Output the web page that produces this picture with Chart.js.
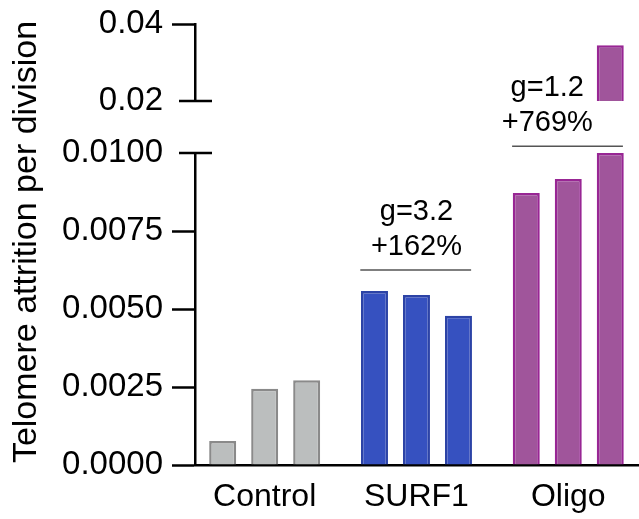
<!DOCTYPE html>
<html>
<head>
<meta charset="utf-8">
<script src="https://cdn.jsdelivr.net/npm/chart.js@4"></script>
<style>
  html, body { margin: 0; padding: 0; background: #fff; overflow: hidden; }
  #wrap { position: relative; width: 639px; height: 519px; overflow: hidden; }
  #wrap canvas { position: absolute; left: 0; }
  #low { top: 0; }
  #high { top: -30px; }
</style>
</head>
<body>
<div id="wrap">
  <canvas id="low" width="639" height="519"></canvas>
  <canvas id="high" width="639" height="170"></canvas>
</div>
<script>
// groups and replicate values (attrition per division)
const GROUPS = ['Control', 'SURF1', 'Oligo'];
const CONTROL = [0.00077, 0.00244, 0.00272];
const SURF1 = [0.00558, 0.00545, 0.00478];
const OLIGO = [0.00872, 0.00917, 0.0345];

// broken y axis: lower and upper segments
const LOW_MIN = 0, LOW_MAX = 0.01, LOW_STEP = 0.0025;
const HIGH_MIN = 0.02, HIGH_MAX = 0.04, HIGH_STEP = 0.02;

// effect size labels above each group
const G_LABELS = ['', 'g=3.2', 'g=1.2'];
const PCT_LABELS = ['', '+162%', '+769%'];

const FILL = ['#bbbebe', '#3651c0', '#a0559b'];
const EDGE = ['#8a8a8a', '#2c43a6', '#982694'];
const FONT = "'Liberation Sans', Arial, Helvetica, sans-serif";

Chart.defaults.font.family = FONT;
Chart.defaults.color = '#000';
Chart.defaults.animation = false;

const byReplicate = r => [CONTROL[r], SURF1[r], OLIGO[r]];

// x is linear so the group spacing and the y axis position can be set independently
const X_SCALE = {
    type: 'linear', min: -0.459, max: 2.466, offset: false,
    grid: { display: true, drawOnChartArea: false, drawTicks: false },
    border: { display: true, color: '#000', width: 2.5 },
    ticks: {
        stepSize: 1, includeBounds: false, padding: 13,
        font: { size: 32 },
        callback: v => GROUPS[v] ?? ''
    },
    afterFit: s => { s.height = 54; }
};

const BAR_STYLE = {
    backgroundColor: FILL, borderColor: EDGE, borderWidth: 2.5,
    categoryPercentage: 0.83, barPercentage: 0.643
};

function yScale(min, max, step, digits, capValue) {
    return {
        min, max,
        ticks: {
            stepSize: step, padding: 9, font: { size: 33 }, autoSkip: false,
            callback: v => v.toFixed(digits)
        },
        grid: {
            drawOnChartArea: false, tickLength: 23, tickWidth: 2.5,
            tickColor: c => (c.tick && Math.abs(c.tick.value - capValue) < 1e-9) ? 'rgba(0,0,0,0)' : '#000'
        },
        border: { display: true, color: '#000', width: 2.5 },
        afterFit: s => { s.width = 195; }
    };
}

// break cap drawn across the axis where a segment is cut
function breakCap(value) {
    return {
        id: 'breakCap',
        afterDraw(chart) {
            const y = chart.scales.y.getPixelForValue(value);
            const x = chart.chartArea.left;
            const ctx = chart.ctx;
            ctx.save();
            ctx.strokeStyle = '#000';
            ctx.lineWidth = 2.5;
            ctx.beginPath();
            ctx.moveTo(x - 16, y);
            ctx.lineTo(x + 17, y);
            ctx.stroke();
            ctx.restore();
        }
    };
}

// y title and the bracket annotations
const extras = {
    id: 'extras',
    afterDraw(chart) {
        const ctx = chart.ctx;
        const xs = chart.scales.x, ys = chart.scales.y;
        ctx.save();
        ctx.fillStyle = '#000';
        ctx.font = '34px ' + FONT;
        ctx.textAlign = 'center';
        ctx.textBaseline = 'middle';
        ctx.translate(27, 242);
        ctx.rotate(-Math.PI / 2);
        ctx.fillText('Telomere attrition per division', 0, 0);
        ctx.restore();

        const bracketAt = [null, 0.00625, 0.01022];
        const textShift = [0, 0, -21];
        ctx.save();
        ctx.font = '29px ' + FONT;
        ctx.textAlign = 'center';
        ctx.textBaseline = 'middle';
        GROUPS.forEach((g, i) => {
            if (!G_LABELS[i]) return;
            const y = ys.getPixelForValue(bracketAt[i]);
            const x0 = xs.getPixelForValue(i - 0.37);
            const x1 = xs.getPixelForValue(i + 0.36);
            ctx.strokeStyle = '#555';
            ctx.lineWidth = 1.5;
            ctx.beginPath();
            ctx.moveTo(x0, y);
            ctx.lineTo(x1, y);
            ctx.stroke();
            const cx = xs.getPixelForValue(i) + textShift[i];
            ctx.fillStyle = '#000';
            ctx.fillText(PCT_LABELS[i], cx, y - 23);
            ctx.fillText(G_LABELS[i], cx, y - 58);
        });
        ctx.restore();
    }
};

new Chart(document.getElementById('low'), {
    type: 'bar',
    data: {
        datasets: [0, 1, 2].map(r => ({
            ...BAR_STYLE,
            data: byReplicate(r).map((v, i) => ({ x: i, y: Math.min(v, LOW_MAX) }))
        }))
    },
    options: {
        responsive: false,
        layout: { padding: { top: 153, right: 0, left: 0, bottom: 0 } },
        plugins: { legend: { display: false }, tooltip: { enabled: false } },
        scales: { x: X_SCALE, y: yScale(LOW_MIN, LOW_MAX, LOW_STEP, 4, LOW_MAX) }
    },
    plugins: [breakCap(LOW_MAX), extras]
});

// upper segment sits 30px above the page top so its padding stays clear of label overflow
new Chart(document.getElementById('high'), {
    type: 'bar',
    data: {
        datasets: [0, 1, 2].map(r => ({
            ...BAR_STYLE,
            data: byReplicate(r).map((v, i) => ({ x: i, y: v > HIGH_MIN ? [HIGH_MIN, v] : null }))
        }))
    },
    options: {
        responsive: false,
        layout: { padding: { top: 54, right: 0, left: 0, bottom: 39 } },
        plugins: { legend: { display: false }, tooltip: { enabled: false } },
        scales: {
            x: { ...X_SCALE, display: false, afterFit: s => { s.height = 0; } },
            y: yScale(HIGH_MIN, HIGH_MAX, HIGH_STEP, 2, HIGH_MIN)
        }
    },
    plugins: [breakCap(HIGH_MIN)]
});
</script>
</body>
</html>
